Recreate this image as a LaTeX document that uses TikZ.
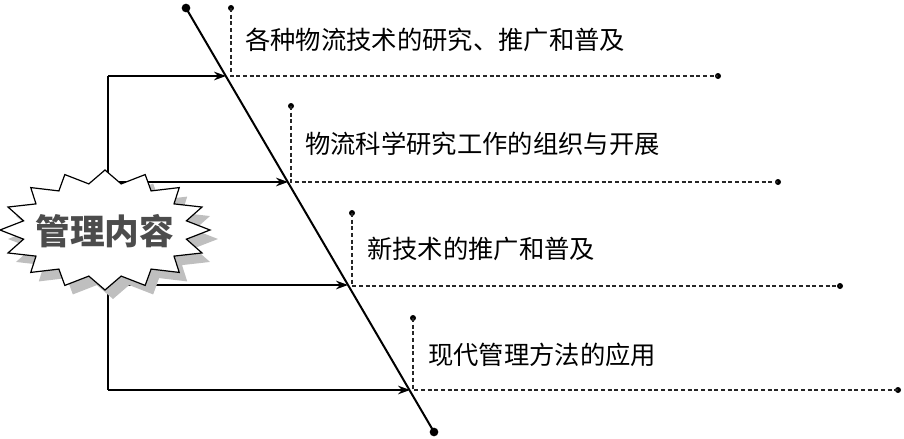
\documentclass[tikz,border=0pt]{standalone}
\usepackage{fontspec}
\newfontfamily\cjk{Noto Sans CJK SC}
\usetikzlibrary{arrows.meta}
\tikzset{
  mainline/.style={line width=1.5pt, black},
  feed/.style={line width=0.9pt, black, -{Stealth[length=9pt,width=6.5pt]}},
  guide/.style={line width=0.9pt, black!85, dash pattern=on 3pt off 2pt},
  bigdot/.style={fill=black, circle, inner sep=0pt, minimum size=6.5pt},
  smalldot/.style={fill=black, circle, inner sep=0pt, minimum size=4.5pt},
  lbl/.style={anchor=west, inner sep=0pt, font=\cjk\fontsize{19}{22}\selectfont},
}
\begin{document}
\begin{tikzpicture}[x=0.75pt,y=-0.75pt]
\useasboundingbox (0,0) rectangle (904,439);

% main diagonal
\node[bigdot] (top) at (186,8) {};
\node[bigdot] (bot) at (434,432) {};
\draw[mainline] (top.center) -- (bot.center);

% hit points on the diagonal
\coordinate (h1) at (226,76);
\coordinate (h2) at (288,182);
\coordinate (h3) at (348,285);
\coordinate (h4) at (410,390);

% feeders
\coordinate (s1) at (108,76);
\coordinate (s2) at (108,182);
\coordinate (s3) at (108,285);
\coordinate (s4) at (108,390);
\draw[line width=0.9pt] (s1) -- (s4);
\draw[feed] (s1) -- (h1);
\draw[feed] (s2) -- (h2);
\draw[feed] (s3) -- (h3);
\draw[feed] (s4) -- (h4);

% dotted guides
\node[smalldot] (t1) at (231,8) {};
\coordinate (c1) at (231,76);
\node[smalldot] (e1) at (718,76) {};
\draw[guide] (t1.center) -- (c1) -- (e1.center);

\node[smalldot] (t2) at (291,106) {};
\coordinate (c2) at (291,182);
\node[smalldot] (e2) at (778,182) {};
\draw[guide] (t2.center) -- (c2) -- (e2.center);

\node[smalldot] (t3) at (352,213) {};
\coordinate (c3) at (352,286);
\node[smalldot] (e3) at (840,286) {};
\draw[guide] (t3.center) -- (c3) -- (e3.center);

\node[smalldot] (t4) at (413,318) {};
\coordinate (c4) at (413,390);
\node[smalldot] (e4) at (898,390) {};
\draw[guide] (t4.center) -- (c4) -- (e4.center);

% labels
\node[lbl] (l1) at (245,40) {各种物流技术的研究、推广和普及};
\node[lbl] (l2) at (305,144) {物流科学研究工作的组织与开展};
\node[lbl] (l3) at (367,249) {新技术的推广和普及};
\node[lbl] (l4) at (428,355) {现代管理方法的应用};

% starburst with shadow
\fill[black!25] plot[samples at={0,...,31}] ({113+ifthenelse(mod(\x,2)==0,105,83)*cos(90+\x*11.25)},{239-ifthenelse(mod(\x,2)==0,60,47)*sin(90+\x*11.25)}) -- cycle;
\draw[line width=0.9pt, fill=white, line join=miter] plot[samples at={0,...,31}] ({105+ifthenelse(mod(\x,2)==0,105,83)*cos(90+\x*11.25)},{230-ifthenelse(mod(\x,2)==0,60,47)*sin(90+\x*11.25)}) -- cycle;
\node[inner sep=0pt, text=black!70, font=\cjk\bfseries\fontsize{26}{30}\selectfont] (title) at (105,231) {管理内容};
\end{tikzpicture}
\end{document}
